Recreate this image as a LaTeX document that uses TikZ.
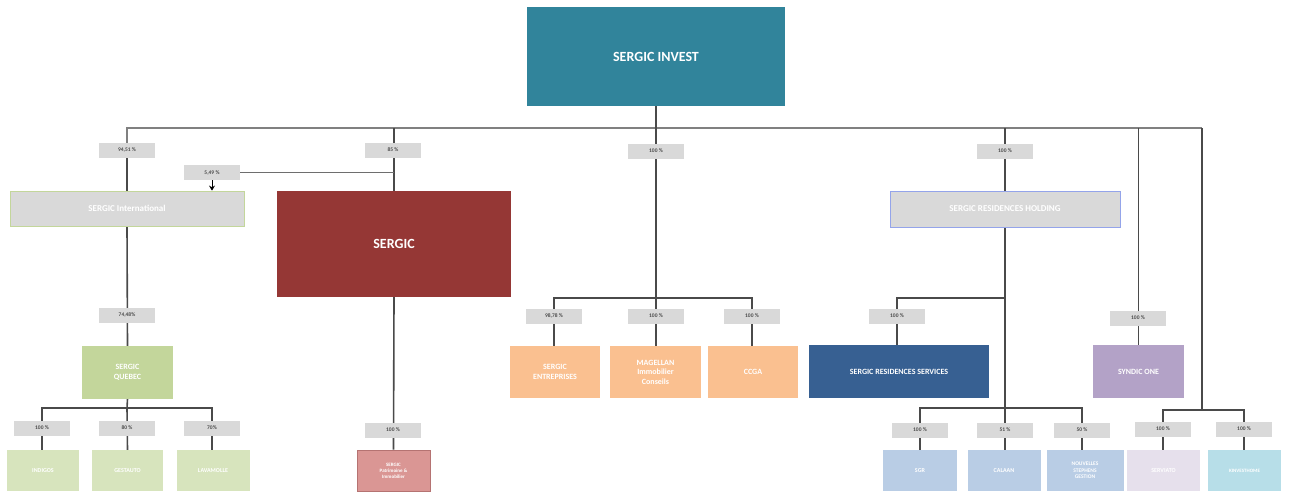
\documentclass[tikz,border=0pt]{standalone}
\usepackage{fontspec}
\setmainfont{Carlito}
\usetikzlibrary{backgrounds,arrows.meta}
\definecolor{cInvest}{HTML}{31849B}
\definecolor{cSergic}{HTML}{953735}
\definecolor{cQuebec}{HTML}{C3D69B}
\definecolor{cGreenL}{HTML}{D7E4BD}
\definecolor{cGray}{HTML}{D9D9D9}
\definecolor{cOrange}{HTML}{FAC090}
\definecolor{cDBlue}{HTML}{376092}
\definecolor{cLBlue}{HTML}{B9CDE5}
\definecolor{cPurple}{HTML}{B3A2C7}
\definecolor{cLav}{HTML}{E6E0EC}
\definecolor{cCyan}{HTML}{B7DEE8}
\definecolor{cPink}{HTML}{DA9694}
\definecolor{cLine}{HTML}{4A4A4A}
\tikzset{
  box/.style={draw=none, text=white, align=center, inner sep=1pt},
  pct/.style={fill=cGray, minimum width=56pt, minimum height=15pt, inner sep=0pt, text=black!70, font=\bfseries\fontsize{5.5}{6.5}\selectfont},
  conn/.style={draw=cLine, line width=1.6pt},
  small/.style={box, minimum height=41pt, font=\bfseries\fontsize{6}{7}\selectfont},
  mid/.style={box, minimum height=53pt, font=\bfseries\fontsize{8}{9.5}\selectfont},
}
\begin{document}
\begin{tikzpicture}[x=1pt,y=-1pt]
\useasboundingbox (0,0) rectangle (1289,491);
% main boxes
\node[box, fill=cInvest, minimum width=258pt, minimum height=99pt, font=\bfseries\fontsize{14}{16}\selectfont] (invest) at (656,56.5) {SERGIC INVEST};
\node[box, fill=cGray, draw=cQuebec, line width=0.8pt, minimum width=234pt, minimum height=35pt, font=\bfseries\fontsize{9}{11}\selectfont] (sint) at (127,208.5) {SERGIC International};
\node[box, fill=cSergic, minimum width=234pt, minimum height=106pt, font=\bfseries\fontsize{14}{16}\selectfont] (sergic) at (394,244) {SERGIC};
\node[box, fill=cGray, draw=cLBlue!80!blue, line width=0.8pt, minimum width=230pt, minimum height=36pt, font=\bfseries\fontsize{9}{11}\selectfont] (srh) at (1005,209) {SERGIC RESIDENCES HOLDING};
% second level
\node[mid, fill=cQuebec, minimum width=91pt] (quebec) at (127.5,372.5) {SERGIC\\QUEBEC};
\node[mid, fill=cOrange, minimum width=90pt, minimum height=52pt] (ent) at (555,372) {SERGIC\\ENTREPRISES};
\node[mid, fill=cOrange, minimum width=91pt, minimum height=52pt] (mag) at (655.5,372) {MAGELLAN\\Immobilier\\Conseils};
\node[mid, fill=cOrange, minimum width=90pt, minimum height=52pt] (ccga) at (753,372) {CCGA};
\node[mid, fill=cDBlue, minimum width=180pt] (srs) at (899,371.5) {SERGIC RESIDENCES SERVICES};
\node[mid, fill=cPurple, minimum width=91pt] (syn) at (1138.5,371.5) {SYNDIC ONE};
% bottom level
\node[small, fill=cGreenL, minimum width=72pt] (q1) at (43,470.5) {INDIGOS};
\node[small, fill=cGreenL, minimum width=71pt] (q2) at (127.5,470.5) {GESTAUTO};
\node[small, fill=cGreenL, minimum width=73pt] (q3) at (213,470.5) {LAVAMOLLE};
\node[small, fill=cPink, draw=cSergic!70, line width=0.6pt, minimum width=73pt, font=\bfseries\fontsize{5}{6}\selectfont] (spi) at (393.5,470.5) {SERGIC\\Patrimoine \&\\Immobilier};
\node[small, fill=cLBlue, minimum width=74pt] (r1) at (920,470.5) {SGR};
\node[small, fill=cLBlue, minimum width=73pt] (r2) at (1004,470.5) {CALAAN};
\node[small, fill=cLBlue, minimum width=77pt, font=\bfseries\fontsize{5.5}{6.5}\selectfont] (r3) at (1085,470.5) {NOUVELLES\\STEPHENS\\GESTION};
\node[small, fill=cLav, minimum width=73pt] (s1) at (1163.5,470.5) {SERVIATO};
\node[small, fill=cCyan, minimum width=73pt, font=\bfseries\fontsize{5}{6}\selectfont] (s2) at (1244.5,470.5) {KINVESTHOME};
% percentage labels
\node[pct] (l1) at (127,150) {94,51 \%};
\node[pct] (l2) at (212,172.5) {5,49 \%};
\node[pct] (l3) at (393,150) {85 \%};
\node[pct] (l4) at (656,151) {100 \%};
\node[pct] (l5) at (1005,151) {100 \%};
\node[pct] (l6) at (127,315) {74,48\%};
\node[pct] (lq1) at (42,428) {100 \%};
\node[pct] (lq2) at (127,428) {80 \%};
\node[pct] (lq3) at (212,428) {70\%};
\node[pct] (lsp) at (393,430) {100 \%};
\node[pct] (le1) at (554,316) {98,78 \%};
\node[pct] (le2) at (656,316) {100 \%};
\node[pct] (le3) at (752,316) {100 \%};
\node[pct] (lsrs) at (897,316) {100 \%};
\node[pct] (lsyn) at (1138,318) {100 \%};
\node[pct] (lr1) at (920,430) {100 \%};
\node[pct] (lr2) at (1005,430) {51 \%};
\node[pct] (lr3) at (1082,430) {50 \%};
\node[pct] (ls1) at (1163,429) {100 \%};
\node[pct] (ls2) at (1244,429) {100 \%};
% junction coordinates
\coordinate (topR) at (1202,128);
\coordinate (cbus) at (656,298);
\coordinate (qbus) at (127,408);
\coordinate (rbus) at (1005,408);
\coordinate (hbus) at (1005,298);
\coordinate (sbus) at (1202,410);
\begin{scope}[on background layer]
\draw[conn, draw=cLine!70] (l1.center) |- (topR);
\draw[conn] (l1.center) -- (sint.north);
\draw[conn] (invest.south) -- (cbus);
\draw[conn] (sergic.north) -- (sergic.north |- topR);
\draw[conn] (srh.north) -- (srh.north |- topR);
\draw[conn] (syn.north) -- (syn.north |- topR);
\draw[conn] (topR) -- (sbus);
\draw[conn, draw=cLine!80] (l2.east) -- (l2.east -| sergic.north);
\draw[conn] (sint.south) -- (quebec.north);
\draw[conn] (quebec.south) -- (qbus);
\draw[conn] (q1.north -| lq1) |- (qbus) -| (q3.north -| lq3);
\draw[conn] (q2.north) -- (qbus);
\draw[conn] (sergic.south) -- (spi.north);
\draw[conn] (ent.north -| le1) |- (cbus) -| (ccga.north -| le3);
\draw[conn] (mag.north -| le2) -- (cbus);
\draw[conn] (srh.south) -- (rbus);
\draw[conn] (srs.north -| lsrs) |- (hbus);
\draw[conn] (r1.north) |- (rbus) -| (r3.north -| lr3);
\draw[conn] (r2.north -| lr2) -- (rbus);
\draw[conn] (s1.north -| ls1) |- (sbus) -| (s2.north -| ls2);
\end{scope}
\draw[-{Stealth[length=5pt,width=6pt]}, line width=1pt, black] (l2.south) -- (l2.south |- sint.north);
\end{tikzpicture}
\end{document}
